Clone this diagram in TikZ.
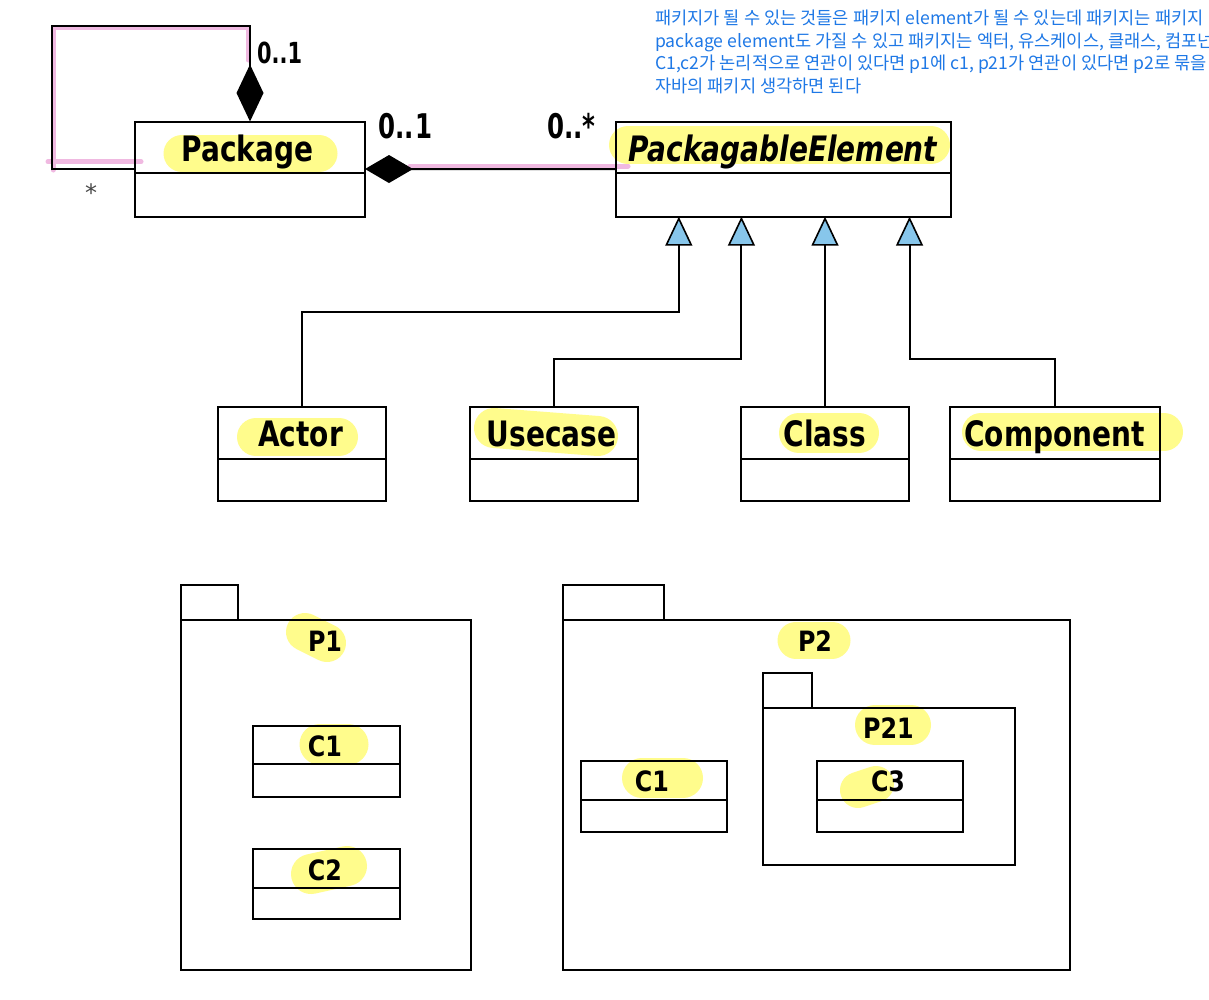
\documentclass[tikz,border=0pt]{standalone}
\usepackage{fontspec}
\setmainfont{DejaVu Sans}
\newfontfamily\lblfont[FakeStretch=0.8]{DejaVu Sans}
\newfontfamily\smfont[FakeStretch=0.85]{DejaVu Sans}
\newfontfamily\multfont[FakeStretch=0.72]{DejaVu Sans}
\newfontfamily\krfont{Noto Sans CJK KR}
\usetikzlibrary{arrows.meta,calc}
\definecolor{hlyellow}{RGB}{255,252,140}
\definecolor{hlpink}{RGB}{240,185,225}
\definecolor{trifill}{RGB}{135,198,235}
\definecolor{notecol}{RGB}{30,120,230}
\definecolor{stargray}{RGB}{70,70,70}
\begin{document}
\begin{tikzpicture}[x=1pt,y=-1pt,
  cbox/.style={draw,line width=2pt,inner sep=0pt,outer sep=0pt},
  pkgbox/.style={draw,line width=1.8pt,inner sep=0pt,outer sep=0pt},
  divline/.style={line width=2pt},
  biglabel/.style={font=\lblfont\bfseries\fontsize{35}{35}\selectfont,inner sep=0pt,anchor=base},
  smalllabel/.style={font=\smfont\bfseries\fontsize{28}{28}\selectfont,inner sep=0pt,anchor=base},
  mult/.style={font=\multfont\bfseries\fontsize{#1}{#1}\selectfont,inner sep=0pt,anchor=base west},
  hl/.style={draw=hlyellow,line width=#1,line cap=round},
  hl/.default=38pt,
  pinkmark/.style={draw=hlpink,line width=5pt,line cap=round,line join=round},
  assoc/.style={draw,line width=2pt},
  gen/.style={draw,line width=2pt,-{Triangle[length=29pt,width=27pt,fill=trifill,line width=1.6pt]}},
  note/.style={font=\krfont\fontsize{17.6}{17.6}\selectfont,text=notecol,inner sep=0pt,anchor=base west},
]
\fill[white] (0,0) rectangle (1209,999);
\useasboundingbox (0,0) rectangle (1209,999);

% ---------- highlighter marks (yellow) ----------
\draw[hl=37pt] (182,153.5) -- (319,153.5);
\draw[hl=38pt] (628,145) -- (931,145);
\draw[hl=38pt] (256,437) -- (339,437);
\draw[hl=40pt] (494,428) -- (598,436);
\draw[hl=40pt] (799,433) -- (859,433);
\draw[hl=38pt] (981,432) -- (1164,432);
\draw[hl=38pt] (305,632) -- (327,643);
\draw[hl=41pt] (320,744) -- (348,744);
\draw[hl=40pt] (311,874) -- (347,866);
\draw[hl=37pt] (796,640) -- (832,640);
\draw[hl=40pt] (875,725) -- (911,725);
\draw[hl=40pt] (642,778) -- (683,778);
\draw[hl=36pt] (858,790) -- (876,784);

% ---------- pink marks ----------
\draw[pinkmark] (48,161.7) -- (141,161.7);
\draw[pinkmark] (53,170) -- (53,27) -- (248,27) -- (248,60);
\draw[pinkmark] (410,166) -- (628,166);

% ---------- class boxes ----------
\node[cbox,minimum width=230pt,minimum height=95pt] (pkg) at (250,169) {};
\draw[divline] (pkg.west |- 0,173.3) -- (pkg.east |- 0,173.3);
\node[biglabel] (pkgl) at (247.5,161.5) {Package};

\node[cbox,minimum width=334.5pt,minimum height=95pt] (pe) at (783.3,169.2) {};
\draw[divline] (pe.west |- 0,173.3) -- (pe.east |- 0,173.3);
\node[biglabel,font=\lblfont\bfseries\itshape\fontsize{35}{35}\selectfont] (pel) at (783,161.7) {PackagableElement};

\node[cbox,minimum width=168pt,minimum height=94pt] (actor) at (302,453.7) {};
\draw[divline] (actor.west |- 0,459) -- (actor.east |- 0,459);
\node[biglabel] (actorl) at (300.5,446.7) {Actor};

\node[cbox,minimum width=168pt,minimum height=94pt] (uc) at (553.5,453.7) {};
\draw[divline] (uc.west |- 0,459) -- (uc.east |- 0,459);
\node[biglabel] (ucl) at (551.5,446.7) {Usecase};

\node[cbox,minimum width=168pt,minimum height=94pt] (cls) at (825,453.7) {};
\draw[divline] (cls.west |- 0,459) -- (cls.east |- 0,459);
\node[biglabel] (clsl) at (825,446.7) {Class};

\node[cbox,minimum width=210pt,minimum height=94pt] (comp) at (1055,453.7) {};
\draw[divline] (comp.west |- 0,459) -- (comp.east |- 0,459);
\node[biglabel] (compl) at (1054.6,446.7) {Component};

% ---------- associations ----------
\coordinate (loopTL) at (51.5,26);
\draw[assoc,{Diamond[length=57pt,width=27pt]}-] (pkg.north) -- (pkg.north |- loopTL) -- (loopTL) -- (loopTL |- pkg.west) -- (pkg.west);
\draw[assoc,{Diamond[length=48pt,width=28pt]}-] (pkg.east) -- (pe.west);

\node[mult=29] (m1) at (257,63) {0..1};
\node[mult=34] (m2) at (378,138) {0..\hspace{2pt}1};
\node[mult=34] (m3) at (547,138) {0..*};
\node[font=\fontsize{24}{24}\selectfont,text=stargray,inner sep=0pt] (m4) at (91,193) {*};

% ---------- generalizations ----------
\coordinate (g1) at ($(pe.south west)!0.1876!(pe.south east)$);
\coordinate (g2) at ($(pe.south west)!0.3748!(pe.south east)$);
\coordinate (g3) at (cls.north |- pe.south);
\coordinate (g4) at ($(pe.south west)!0.8774!(pe.south east)$);
\draw[gen] (actor.north) -- (actor.north |- 0,311.7) -| (g1);
\draw[gen] (uc.north) -- (uc.north |- 0,359) -| (g2);
\draw[gen] (cls.north) -- (g3);
\draw[gen] (comp.north) -- (comp.north |- 0,359) -| (g4);

% ---------- package P1 ----------
\node[pkgbox,minimum width=57pt,minimum height=35pt] (p1tab) at (209.5,602.5) {};
\node[pkgbox,minimum width=289.5pt,minimum height=350pt] (p1) at (326,795) {};
\node[smalllabel] (p1l) at (325,651) {P1};
\node[pkgbox,minimum width=146.5pt,minimum height=71pt] (c1a) at (326.6,761.2) {};
\draw[line width=1.8pt] (c1a.west |- 0,764.3) -- (c1a.east |- 0,764.3);
\node[smalllabel] (c1al) at (325,756) {C1};
\node[pkgbox,minimum width=146.5pt,minimum height=70.5pt] (c2) at (326.6,883.9) {};
\draw[line width=1.8pt] (c2.west |- 0,887.7) -- (c2.east |- 0,887.7);
\node[smalllabel] (c2l) at (325,880) {C2};

% ---------- package P2 ----------
\node[pkgbox,minimum width=101pt,minimum height=35pt] (p2tab) at (613.5,602.5) {};
\node[pkgbox,minimum width=507pt,minimum height=350pt] (p2) at (816.5,795) {};
\node[smalllabel] (p2l) at (815,651) {P2};
\node[pkgbox,minimum width=145.5pt,minimum height=71pt] (c1b) at (654,796.5) {};
\draw[line width=1.8pt] (c1b.west |- 0,799.7) -- (c1b.east |- 0,799.7);
\node[smalllabel] (c1bl) at (652,791.7) {C1};

\node[pkgbox,minimum width=49.5pt,minimum height=35pt] (p21tab) at (787.5,690.5) {};
\node[pkgbox,minimum width=252.5pt,minimum height=157pt] (p21) at (889,786.3) {};
\node[smalllabel] (p21l) at (888.5,738) {P21};
\node[pkgbox,minimum width=145.7pt,minimum height=71pt] (c3) at (890,796.5) {};
\draw[line width=1.8pt] (c3.west |- 0,799.7) -- (c3.east |- 0,799.7);
\node[smalllabel] (c3l) at (888,791.7) {C3};

% ---------- note ----------
\begin{scope}
\clip (0,0) rectangle (1209,999);
\node[note] (n1) at (655,24) {패키지가 될 수 있는 것들은 패키지 element가 될 수 있는데 패키지는 패키지};
\node[note] (n2) at (655,47) {package element도 가질 수 있고 패키지는 엑터, 유스케이스, 클래스, 컴포넌};
\node[note] (n3) at (655,69.5) {C1,c2가 논리적으로 연관이 있다면 p1에 c1, p21가 연관이 있다면 p2로 묶을 수};
\node[note] (n4) at (655,92) {자바의 패키지 생각하면 된다};
\end{scope}
\end{tikzpicture}
\end{document}
